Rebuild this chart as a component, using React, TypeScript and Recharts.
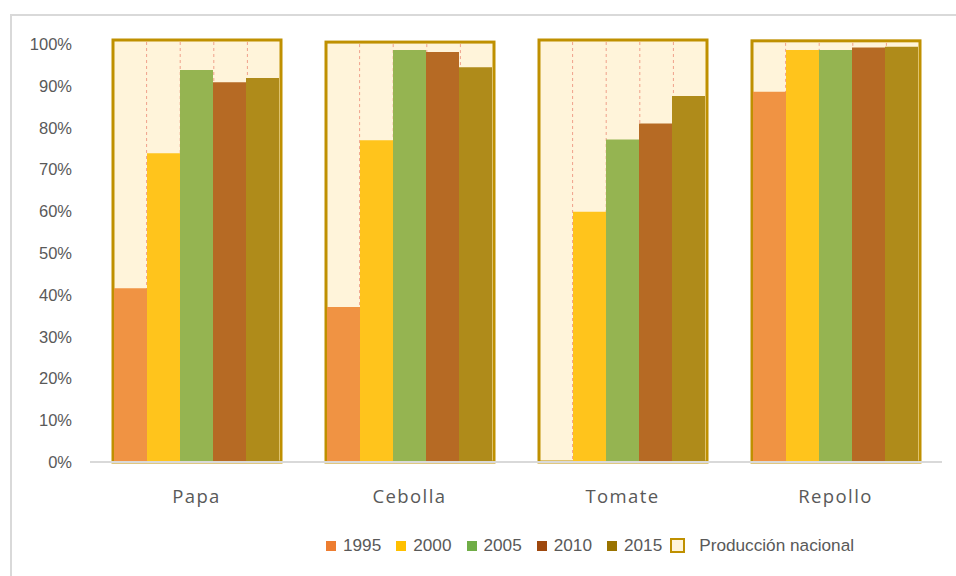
import { BarChart, Bar, XAxis, YAxis } from "recharts";

const categories = ["Papa", "Cebolla", "Tomate", "Repollo"];
const years = ["1995", "2000", "2005", "2010", "2015"];
const v1995 = [0.416, 0.371, 0, 0.886];
const v2000 = [0.739, 0.77, 0.599, 0.986];
const v2005 = [0.938, 0.986, 0.772, 0.986];
const v2010 = [0.909, 0.981, 0.81, 0.992];
const v2015 = [0.919, 0.945, 0.876, 0.994];
const nacional = [1.01, 1.005, 1.01, 1.008];
const yTicks = [0, 0.1, 0.2, 0.3, 0.4, 0.5, 0.6, 0.7, 0.8, 0.9, 1];

const BAR_COLORS = ["#F09343", "#FFC41C", "#95B451", "#B66A24", "#AF8B1A"];
const LEGEND_COLORS = ["#ED7D31", "#FFC000", "#70AD47", "#9E480E", "#997300"];
const CREAM = "#FFF4DA";
const GOLD = "#BF9000";
const FONT = "'Liberation Sans', Arial, sans-serif";

const series = [v1995, v2000, v2005, v2010, v2015];

const data = categories.map((name, i) => {
  const row: Record<string, string | number> = { name, nacional: nacional[i] };
  years.forEach((y, k) => {
    row["y" + y] = series[k][i];
  });
  return row;
});

function BgShape(props: any) {
  const { x, y, width, height } = props;
  return (
    <g>
      <rect x={x} y={y} width={width} height={height} fill={CREAM} stroke={GOLD} strokeWidth={3} />
      {[1, 2, 3, 4].map((k) => (
        <line
          key={k}
          x1={x + (width * k) / 5}
          x2={x + (width * k) / 5}
          y1={y + 2}
          y2={y + height}
          stroke="#F0A08A"
          strokeWidth={1}
          strokeDasharray="3 3"
        />
      ))}
    </g>
  );
}

function CatTick(props: any) {
  const { x, y, payload } = props;
  return (
    <text
      x={x}
      y={y + 33}
      textAnchor="middle"
      dominantBaseline="central"
      fill="#595959"
      fontFamily="'Open Sans', sans-serif"
      fontSize={18.5}
      letterSpacing={1.4}
    >
      {payload.value}
    </text>
  );
}

export default function App() {
  return (
    <div style={{ position: "absolute", left: 0, top: 0, width: 956, height: 576, background: "#fff", overflow: "hidden" }}>
      <div
        style={{
          position: "absolute",
          left: 10,
          top: 14,
          width: 980,
          height: 600,
          borderLeft: "2px solid #D9D9D9",
          borderTop: "2px solid #D9D9D9",
        }}
      />
      <div style={{ position: "absolute", left: 0, top: 0 }}>
        <BarChart width={956} height={576} data={data} margin={{ top: 40, right: 14, bottom: 40, left: 0 }} barGap={0}>
          <XAxis
            xAxisId="main"
            dataKey="name"
            height={74}
            axisLine={{ stroke: "#D9D9D9", strokeWidth: 2 }}
            tickLine={false}
            tickSize={0}
            tickMargin={0}
            tick={<CatTick />}
          />
          <XAxis xAxisId="bg" dataKey="name" hide height={0} />
          <YAxis
            domain={[0, 1.01]}
            ticks={yTicks}
            width={90}
            axisLine={false}
            tickLine={false}
            tickSize={0}
            tickMargin={18}
            tickFormatter={(v: number) => `${Math.round(v * 100)}%`}
            tick={{ fill: "#595959", fontSize: 16.5, fontFamily: FONT }}
          />
          <Bar xAxisId="bg" dataKey="nacional" barSize={168} shape={<BgShape />} isAnimationActive={false} />
          {years.map((y, k) => (
            <Bar
              key={y}
              xAxisId="main"
              dataKey={"y" + y}
              barSize={33}
              fill={BAR_COLORS[k]}
              isAnimationActive={false}
            />
          ))}
        </BarChart>
      </div>
      <div
        style={{
          position: "absolute",
          left: 326,
          top: 535,
          display: "flex",
          alignItems: "center",
          fontFamily: FONT,
          fontSize: 17.2,
          color: "#595959",
        }}
      >
        {years.map((y, k) => (
          <div key={y} style={{ display: "flex", alignItems: "center", marginRight: 15 }}>
            <span style={{ width: 10, height: 10, background: LEGEND_COLORS[k], marginRight: 7, display: "inline-block" }} />
            <span>{y}</span>
          </div>
        ))}
        <div style={{ display: "flex", alignItems: "center", marginLeft: -7 }}>
          <span
            style={{
              width: 11,
              height: 11,
              background: CREAM,
              border: `2.5px solid ${GOLD}`,
              marginRight: 14,
              display: "inline-block",
            }}
          />
          <span>Producción nacional</span>
        </div>
      </div>
    </div>
  );
}
